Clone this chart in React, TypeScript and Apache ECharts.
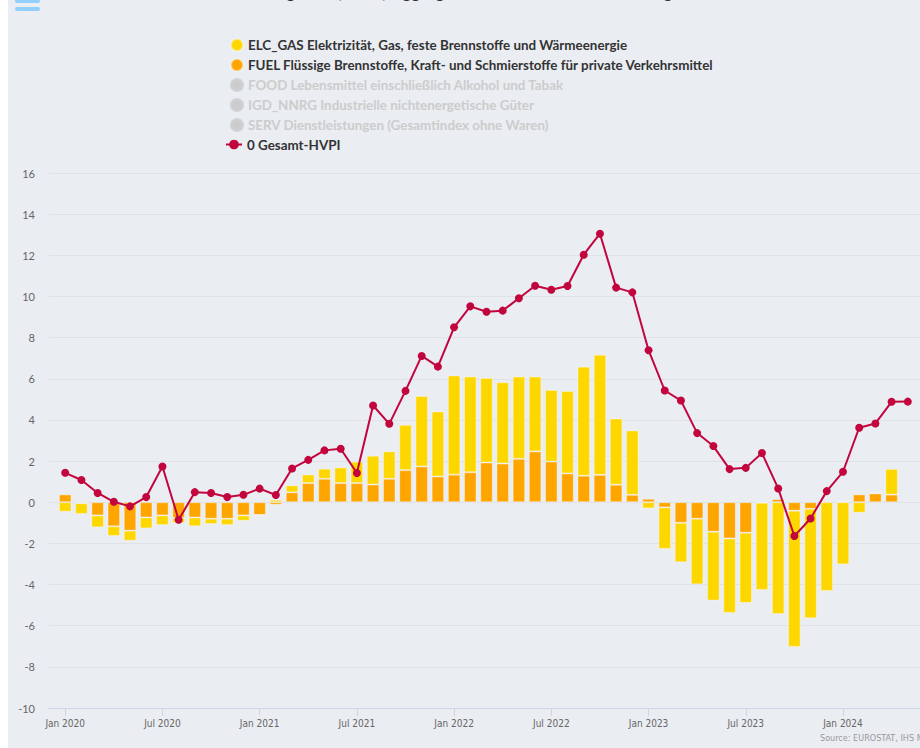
import React, { useEffect, useRef } from "react";
import * as echarts from "echarts";

// Months Jan 2020 .. May 2024
const monthNames = ["Jan", "Feb", "Mar", "Apr", "May", "Jun", "Jul", "Aug", "Sep", "Oct", "Nov", "Dec"];
const years = [2020, 2021, 2022, 2023, 2024];
const lastYearMonths = 5;

const hvpi = [
  1.43, 1.08, 0.45, 0.02, -0.2, 0.25, 1.74, -0.85, 0.49, 0.45, 0.25, 0.36,
  0.66, 0.35, 1.64, 2.06, 2.52, 2.6, 1.42, 4.7, 3.81, 5.41, 7.11, 6.59,
  8.5, 9.52, 9.26, 9.31, 9.91, 10.52, 10.33, 10.51, 12.03, 13.05, 10.43, 10.2,
  7.39, 5.43, 4.94, 3.36, 2.73, 1.61, 1.67, 2.39, 0.67, -1.64, -0.79, 0.54,
  1.48, 3.62, 3.83, 4.88, 4.89,
];

const fuel = [
  0.38, -0.05, -0.64, -1.17, -1.38, -0.74, -0.64, -0.77, -0.74, -0.8, -0.8, -0.64,
  -0.62, -0.12, 0.48, 0.93, 1.14, 0.93, 0.93, 0.86, 1.14, 1.56, 1.74, 1.25,
  1.34, 1.46, 1.93, 1.88, 2.11, 2.47, 1.98, 1.4, 1.29, 1.33, 0.85, 0.36,
  0.17, -0.25, -1.0, -0.8, -1.43, -1.76, -1.48, -0.02, 0.15, -0.41, -0.32, 0.06,
  0.03, 0.38, 0.43, 0.37, null,
];

const elcGas = [
  -0.46, -0.52, -0.58, -0.47, -0.49, -0.53, -0.47, -0.24, -0.43, -0.26, -0.31, -0.26,
  0, 0.12, 0.34, 0.42, 0.49, 0.76, 1.04, 1.4, 1.33, 2.2, 3.42, 3.16,
  4.82, 4.65, 4.11, 3.95, 4.0, 3.64, 3.48, 4.01, 5.3, 5.84, 3.22, 3.13,
  -0.3, -2.02, -1.92, -3.19, -3.35, -3.62, -3.41, -4.24, -5.43, -6.62, -5.32, -4.31,
  -3.02, -0.51, 0.03, 1.25, null,
];

const seriesNames = {
  elc: "ELC_GAS Elektrizität, Gas, feste Brennstoffe und Wärmeenergie",
  fuel: "FUEL Flüssige Brennstoffe, Kraft- und Schmierstoffe für private Verkehrsmittel",
  food: "FOOD Lebensmittel einschließlich Alkohol und Tabak",
  igd: "IGD_NNRG Industrielle nichtenergetische Güter",
  serv: "SERV Dienstleistungen (Gesamtindex ohne Waren)",
  hvpi: "0 Gesamt-HVPI",
};

const titleText = "Beiträge der (HVPI) Aggregate zur Gesamtinflation – Belgien";
const sourceText = "Source: EUROSTAT, IHS Markit";

const narrowFont = "'Liberation Sans Narrow', 'DejaVu Sans Condensed', 'Roboto Condensed', Roboto, sans-serif";

function buildCategories(): string[] {
  const cats: string[] = ["Dec 2019"];
  years.forEach((y, yi) => {
    const n = yi === years.length - 1 ? lastYearMonths : 12;
    for (let m = 0; m < n; m++) cats.push(monthNames[m] + " " + y);
  });
  cats.push("Jun 2024");
  return cats;
}

const pad = (arr: (number | null)[]) => [null, ...arr, null];

export default function App() {
  const ref = useRef<HTMLDivElement>(null);
  useEffect(() => {
    if (!ref.current) return;
    const chart = echarts.init(ref.current, undefined, { renderer: "svg" });
    const cats = buildCategories();
    const showIdx = (i: number) => i >= 1 && (i - 1) % 6 === 0;
    const barCommon = {
      type: "bar" as const,
      stack: "contrib",
      barWidth: 12.5,
      itemStyle: { borderColor: "rgba(255,255,255,0.35)", borderWidth: 1 },
    };
    const legendText = { fontFamily: "Lato", fontWeight: "bold", fontSize: 13.4, color: "#333333" };
    chart.setOption({
      animation: false,
      backgroundColor: "#eaedf2",
      grid: { left: 41, right: 24, top: 173, bottom: 40 },
      legend: [
        {
          orient: "vertical",
          left: 217,
          top: 33,
          itemWidth: 12,
          itemHeight: 12,
          itemGap: 6,
          icon: "circle",
          inactiveColor: "#cccccc",
          textStyle: legendText,
          data: [seriesNames.elc, seriesNames.fuel, seriesNames.food, seriesNames.igd, seriesNames.serv],
          selected: { [seriesNames.food]: false, [seriesNames.igd]: false, [seriesNames.serv]: false },
        },
        {
          orient: "vertical",
          left: 212,
          top: 133,
          itemWidth: 16,
          itemHeight: 12,
          textStyle: legendText,
          data: [seriesNames.hvpi],
        },
      ],
      xAxis: {
        type: "category",
        data: cats,
        boundaryGap: false,
        axisLine: { onZero: false, lineStyle: { color: "#ccd6eb" } },
        axisTick: { show: true, length: 8, interval: (i: number) => showIdx(i), lineStyle: { color: "#ccd6eb" } },
        axisLabel: {
          interval: (i: number) => showIdx(i),
          color: "#666666",
          fontSize: 10,
          fontFamily: narrowFont,
          margin: 10,
        },
        splitLine: { show: false },
      },
      yAxis: {
        type: "value",
        min: -10,
        max: 16,
        interval: 2,
        axisLine: { show: false },
        axisTick: { show: false },
        axisLabel: { color: "#666666", fontSize: 11, fontFamily: "Lato", margin: 14 },
        splitLine: { lineStyle: { color: "#dfe2e7", width: 1 } },
      },
      series: [
        { ...barCommon, name: seriesNames.fuel, data: pad(fuel), itemStyle: { ...barCommon.itemStyle, color: "#ffa500" } },
        { ...barCommon, name: seriesNames.elc, data: pad(elcGas), itemStyle: { ...barCommon.itemStyle, color: "#ffd700" } },
        { ...barCommon, name: seriesNames.food, data: [], itemStyle: { ...barCommon.itemStyle, color: "#7cb342" } },
        { ...barCommon, name: seriesNames.igd, data: [], itemStyle: { ...barCommon.itemStyle, color: "#4fc3f7" } },
        { ...barCommon, name: seriesNames.serv, data: [], itemStyle: { ...barCommon.itemStyle, color: "#9575cd" } },
        {
          type: "line",
          name: seriesNames.hvpi,
          data: pad(hvpi),
          z: 5,
          symbol: "circle",
          symbolSize: 8,
          color: "#c2053d",
          lineStyle: { width: 2, color: "#c2053d" },
          itemStyle: { color: "#c2053d" },
        },
      ],
      graphic: [
        {
          type: "text",
          x: 460,
          y: 0,
          style: {
            text: titleText,
            fontFamily: "Lato",
            fontWeight: "bold",
            fontSize: 17,
            fill: "#333333",
            align: "center",
            verticalAlign: "bottom",
          },
        },
        { type: "rect", shape: { x: 7, y: -8, width: 25, height: 4, r: 2 }, style: { fill: "#90d0fb" } },
        { type: "rect", shape: { x: 7, y: -1, width: 25, height: 4, r: 2 }, style: { fill: "#90d0fb" } },
        { type: "rect", shape: { x: 7, y: 7, width: 25, height: 4, r: 2 }, style: { fill: "#90d0fb" } },
        {
          type: "text",
          x: 812,
          y: 738,
          style: {
            text: sourceText,
            fontFamily: narrowFont,
            fontSize: 9,
            fill: "#999999",
            verticalAlign: "middle",
          },
        },
      ],
    });
    return () => chart.dispose();
  }, []);
  return (
    <div style={{ position: "absolute", left: 8, top: 0, width: 912, height: 748, overflow: "hidden" }}>
      <div ref={ref} style={{ position: "absolute", left: 0, top: 0, width: 940, height: 748 }} />
    </div>
  );
}
